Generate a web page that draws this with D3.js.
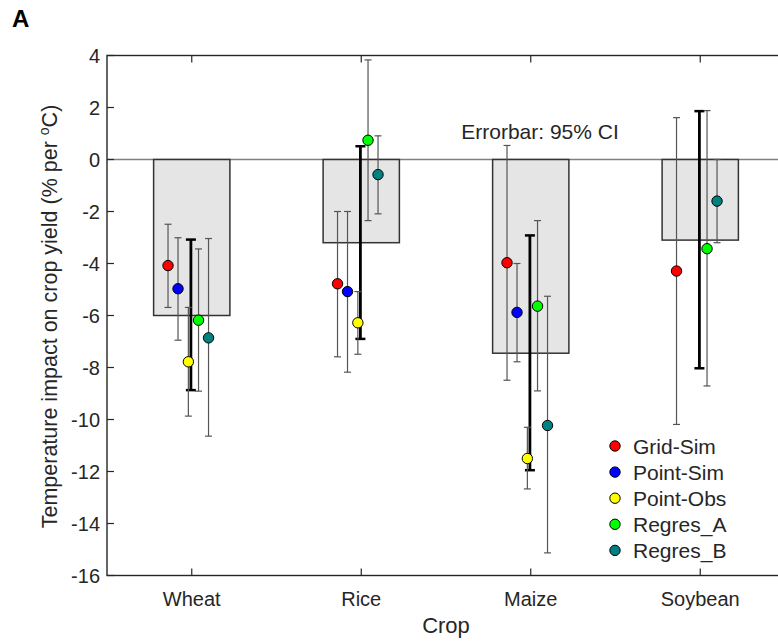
<!DOCTYPE html>
<html>
<head>
<meta charset="utf-8">
<script src="https://cdn.jsdelivr.net/npm/d3@7"></script>
<style>
  body { margin: 0; background: #fff; }
  svg text { font-family: 'Liberation Sans', Arial, sans-serif; fill: #262626; }
</style>
</head>
<body>
<div id="chart-area"></div>
<script>
// Data
let crops = ['Wheat', 'Rice', 'Maize', 'Soybean'];
let barValues = [-6.0, -3.2, -7.45, -3.1];

// Ensemble errorbar (thick black), 95% CI
let ensLow = [-8.87, -6.9, -11.95, -8.03];
let ensHigh = [-3.08, 0.51, -2.92, 1.86];

let seriesNames = ['Grid-Sim', 'Point-Sim', 'Point-Obs', 'Regres_A', 'Regres_B'];
let seriesColors = ['#ff0000', '#0000ff', '#ffff00', '#00ff00', '#008080'];

let gridSim = [-4.08, -4.78, -3.97, -4.29];
let gridSimLow = [-5.69, -7.59, -8.49, -10.19];
let gridSimHigh = [-2.49, -2.0, 0.54, 1.61];

let pointSim = [-4.97, -5.08, -5.88, null];
let pointSimLow = [-6.95, -8.18, -7.78, null];
let pointSimHigh = [-3.01, -2.0, -4.0, null];

let pointObs = [-7.78, -6.28, -11.5, null];
let pointObsLow = [-9.87, -7.49, -12.67, null];
let pointObsHigh = [-5.69, -5.08, -10.3, null];

let regresA = [-6.18, 0.74, -5.64, -3.43];
let regresALow = [-8.91, -2.35, -8.9, -8.71];
let regresAHigh = [-3.44, 3.83, -2.35, 1.88];

let regresB = [-6.86, -0.58, -10.23, -1.6];
let regresBLow = [-10.64, -2.09, -15.13, -3.2];
let regresBHigh = [-3.04, 0.91, -5.26, 0.0];

let yTicks = [4, 2, 0, -2, -4, -6, -8, -10, -12, -14, -16];

let seriesValues = [gridSim, pointSim, pointObs, regresA, regresB];
let seriesLow = [gridSimLow, pointSimLow, pointObsLow, regresALow, regresBLow];
let seriesHigh = [gridSimHigh, pointSimHigh, pointObsHigh, regresAHigh, regresBHigh];

// Horizontal shift of each series from the category centre (x units)
let offsets = [-0.14, -0.081, -0.02, 0.04, 0.099];

// Setup
let svgWidth = 778;
let svgHeight = 643;
let margin = { left: 107, top: 55.5 };
let width = 678;   // axes box runs past the right edge of the picture
let height = 520;

let svg = d3.select('#chart-area')
    .append('svg')
        .attr('width', svgWidth)
        .attr('height', svgHeight);

let g = svg.append('g')
    .attr('transform', 'translate(' + margin.left + ', ' + margin.top + ')');

// Scales
let x = d3.scaleLinear()
    .domain([0.5, crops.length + 0.5])
    .range([0, width]);
let y = d3.scaleLinear()
    .domain([-16, 4])
    .range([height, 0]);

let axisColor = '#262626';

// Zero line
g.append('line')
    .attr('x1', 0)
    .attr('x2', width)
    .attr('y1', y(0))
    .attr('y2', y(0))
    .attr('stroke', '#808080')
    .attr('stroke-width', 1.5);

// Bars
let barW = 0.45;
g.selectAll('rect.bar')
    .data(barValues)
    .enter()
    .append('rect')
        .attr('class', 'bar')
        .attr('x', function(d, i) { return x(i + 1 - barW / 2); })
        .attr('width', x(barW) - x(0))
        .attr('y', function(d) { return y(Math.max(0, d)); })
        .attr('height', function(d) { return Math.abs(y(d) - y(0)); })
        .attr('fill', '#e5e5e5')
        .attr('stroke', '#333')
        .attr('stroke-width', 1.5);

// Thick black ensemble errorbars
let ens = g.append('g');
crops.forEach(function(c, i) {
    let cx = x(i + 1 - 0.005);
    ens.append('line')
        .attr('x1', cx).attr('x2', cx)
        .attr('y1', y(ensLow[i])).attr('y2', y(ensHigh[i]))
        .attr('stroke', '#000')
        .attr('stroke-width', 2.8);
    [ensLow[i], ensHigh[i]].forEach(function(v) {
        ens.append('line')
            .attr('x1', cx - 5).attr('x2', cx + 5)
            .attr('y1', y(v)).attr('y2', y(v))
            .attr('stroke', '#000')
            .attr('stroke-width', 2.5);
    });
});

// Series errorbars and markers
seriesNames.forEach(function(name, s) {
    let sg = g.append('g');
    crops.forEach(function(c, i) {
        let v = seriesValues[s][i];
        if (v === null) { return; }
        let cx = x(i + 1 + offsets[s]);
        sg.append('line')
            .attr('x1', cx).attr('x2', cx)
            .attr('y1', y(seriesLow[s][i])).attr('y2', y(seriesHigh[s][i]))
            .attr('stroke', '#555')
            .attr('stroke-width', 1.2);
        [seriesLow[s][i], seriesHigh[s][i]].forEach(function(e) {
            sg.append('line')
                .attr('x1', cx - 3.5).attr('x2', cx + 3.5)
                .attr('y1', y(e)).attr('y2', y(e))
                .attr('stroke', '#555')
                .attr('stroke-width', 1.2);
        });
    });
    crops.forEach(function(c, i) {
        let v = seriesValues[s][i];
        if (v === null) { return; }
        sg.append('circle')
            .attr('cx', x(i + 1 + offsets[s]))
            .attr('cy', y(v))
            .attr('r', 5.2)
            .attr('fill', seriesColors[s])
            .attr('stroke', '#000')
            .attr('stroke-width', 1);
    });
});

// Axes box
g.append('rect')
    .attr('x', 0).attr('y', 0)
    .attr('width', width).attr('height', height)
    .attr('fill', 'none')
    .attr('stroke', axisColor)
    .attr('stroke-width', 1.4);

// Y ticks (left and right, pointing inward)
let tickLen = 7;
yTicks.forEach(function(t) {
    g.append('line')
        .attr('x1', 0).attr('x2', tickLen)
        .attr('y1', y(t)).attr('y2', y(t))
        .attr('stroke', axisColor).attr('stroke-width', 1.2);
    g.append('line')
        .attr('x1', width - tickLen).attr('x2', width)
        .attr('y1', y(t)).attr('y2', y(t))
        .attr('stroke', axisColor).attr('stroke-width', 1.2);
    g.append('text')
        .attr('x', -7)
        .attr('y', y(t))
        .attr('dy', '0.36em')
        .attr('text-anchor', 'end')
        .attr('font-size', '20px')
        .text(t);
});

// X ticks (bottom and top) with category labels
crops.forEach(function(c, i) {
    let cx = x(i + 1);
    g.append('line')
        .attr('x1', cx).attr('x2', cx)
        .attr('y1', height).attr('y2', height - tickLen)
        .attr('stroke', axisColor).attr('stroke-width', 1.2);
    g.append('line')
        .attr('x1', cx).attr('x2', cx)
        .attr('y1', 0).attr('y2', tickLen)
        .attr('stroke', axisColor).attr('stroke-width', 1.2);
    g.append('text')
        .attr('x', cx)
        .attr('y', height + 30)
        .attr('text-anchor', 'middle')
        .attr('font-size', '20px')
        .text(c);
});

// Axis labels
g.append('text')
    .attr('x', width / 2)
    .attr('y', height + 57)
    .attr('text-anchor', 'middle')
    .attr('font-size', '22px')
    .text('Crop');

let yLabel = g.append('text')
    .attr('transform', 'translate(' + (-50) + ',' + (height / 2 + 1) + ') rotate(-90)')
    .attr('text-anchor', 'middle')
    .attr('font-size', '21.5px');
yLabel.append('tspan').text('Temperature impact on crop yield (% per ');
yLabel.append('tspan').attr('dy', -8).attr('font-size', '14px').text('o');
yLabel.append('tspan').attr('dy', 8).text('C)');

// Annotation
g.append('text')
    .attr('x', 433)
    .attr('y', y(0) - 21)
    .attr('text-anchor', 'middle')
    .attr('font-size', '21px')
    .text('Errorbar: 95% CI');

// Panel letter
svg.append('text')
    .attr('x', 12)
    .attr('y', 27)
    .attr('font-size', '24px')
    .attr('font-weight', 'bold')
    .style('fill', '#000')
    .text('A');

// Legend
let legend = svg.append('g')
    .attr('transform', 'translate(615, 446)');
seriesNames.forEach(function(name, i) {
    let row = legend.append('g')
        .attr('transform', 'translate(0, ' + (i * 26.1) + ')');
    row.append('circle')
        .attr('r', 5.2)
        .attr('fill', seriesColors[i])
        .attr('stroke', '#000')
        .attr('stroke-width', 1);
    row.append('text')
        .attr('x', 18)
        .attr('dy', '0.36em')
        .attr('font-size', '21px')
        .text(name);
});
</script>
</body>
</html>
